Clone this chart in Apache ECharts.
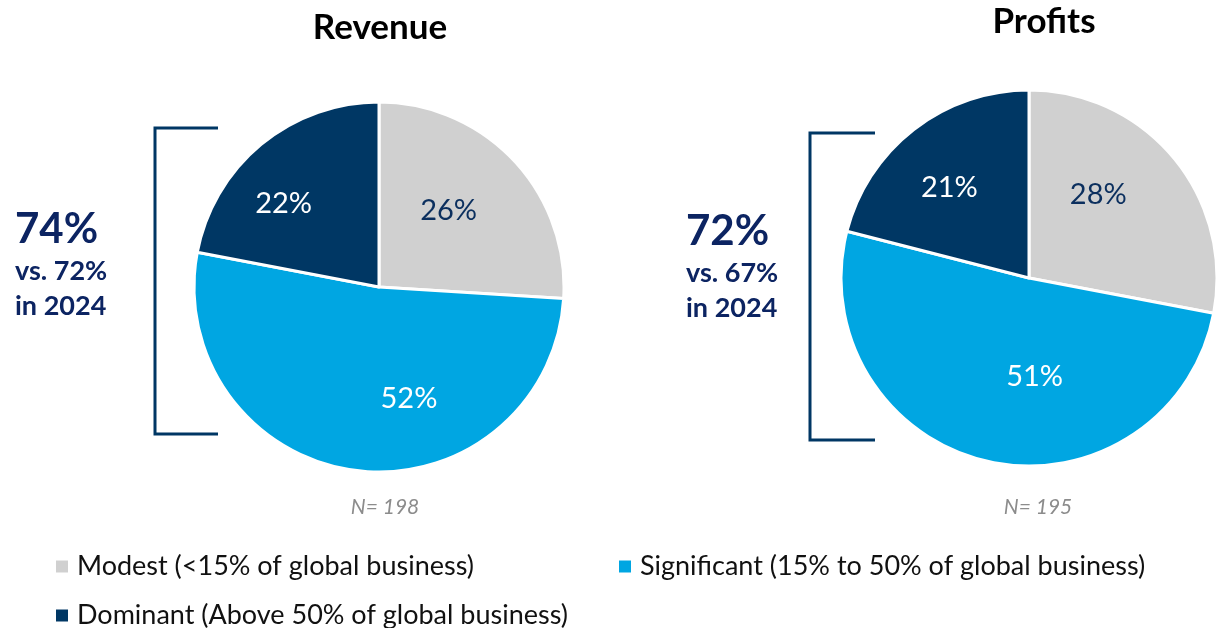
<!DOCTYPE html>
<html>
<head>
<meta charset="utf-8">
<script src="https://cdn.jsdelivr.net/npm/echarts@6/dist/echarts.min.js"></script>
<style>
  html, body { margin: 0; padding: 0; background: #fff; }
  #chart { width: 1218px; height: 628px; }
</style>
</head>
<body>
<div id="chart"></div>
<script>
const categories = [
  'Modest (<15% of global business)',
  'Significant (15% to 50% of global business)',
  'Dominant (Above 50% of global business)'
];
const revenueValues = [26, 52, 22];
const profitValues = [28, 51, 21];
const revenueSample = 'N= 198';
const profitSample = 'N= 195';
const revenueNote = ['74%', 'vs. 72%', 'in 2024'];
const profitNote = ['72%', 'vs. 67%', 'in 2024'];

const colors = ['#D0D0D0', '#00A6E2', '#003764'];
const labelColors = ['#0B2F5E', '#FFFFFF', '#FFFFFF'];
const navy = '#0C2462';
const font = 'Lato, "Noto Sans", sans-serif';

// small nudges so the labels sit where the original chart put them
const revenueNudge = [[-12, 0], [44, 1], [-24, 3]];
const profitNudge = [[-17, -12], [30, -11], [-11, -2]];

const chart = echarts.init(document.getElementById('chart'));

function pieData(values) {
  return values.map((v, i) => ({
    name: categories[i],
    value: v,
    itemStyle: { color: colors[i] },
    label: { color: labelColors[i] }
  }));
}

// visible pie, no labels
function piePart(values, center, radius) {
  return {
    type: 'pie',
    center: center,
    radius: radius,
    startAngle: 90,
    clockwise: true,
    silent: true,
    data: pieData(values),
    label: { show: false },
    labelLine: { show: false },
    itemStyle: { borderColor: '#fff', borderWidth: 3 },
    emphasis: { disabled: true }
  };
}

// transparent, larger pie that only carries the labels
function labelPart(values, center, radius, nudge) {
  return {
    type: 'pie',
    center: center,
    radius: radius,
    startAngle: 90,
    clockwise: true,
    silent: true,
    legendHoverLink: false,
    data: pieData(values).map(d => Object.assign(d, { itemStyle: { color: 'rgba(0,0,0,0)' } })),
    label: {
      show: true,
      position: 'inside',
      fontFamily: font,
      fontSize: 29,
      formatter: p => p.value + '%'
    },
    labelLayout: p => ({ dx: nudge[p.dataIndex][0], dy: nudge[p.dataIndex][1] }),
    labelLine: { show: false },
    emphasis: { disabled: true }
  };
}

function legendAt(name, left, top) {
  return {
    data: [name],
    left: left,
    top: top,
    icon: 'rect',
    itemWidth: 14,
    itemHeight: 14,
    selectedMode: false,
    textStyle: { fontFamily: font, fontSize: 27, color: '#111', padding: [0, 0, 0, 3] }
  };
}

function noteText(lines, x, y) {
  return [
    { type: 'text', x: x, y: y, style: { text: lines[0], font: 'bold 42px ' + font, fill: navy, verticalAlign: 'middle' } },
    { type: 'text', x: x, y: y + 42, style: { text: lines[1], font: 'bold 27px ' + font, fill: navy, verticalAlign: 'middle' } },
    { type: 'text', x: x, y: y + 77, style: { text: lines[2], font: 'bold 27px ' + font, fill: navy, verticalAlign: 'middle' } }
  ];
}

function bracket(x, x2, y1, y2) {
  return {
    type: 'polyline',
    shape: { points: [[x2, y1], [x, y1], [x, y2], [x2, y2]] },
    style: { stroke: '#003764', lineWidth: 3, fill: null }
  };
}

chart.setOption({
  animation: false,
  legend: [
    legendAt(categories[0], 49, 548),
    legendAt(categories[1], 612, 548),
    legendAt(categories[2], 49, 597)
  ],
  series: [
    piePart(revenueValues, [379, 287], 185),
    labelPart(revenueValues, [379, 287], 218, revenueNudge),
    piePart(profitValues, [1029, 278], 188),
    labelPart(profitValues, [1029, 278], 218, profitNudge)
  ],
  graphic: [
    { type: 'text', x: 380, y: 28, style: { text: 'Revenue', font: 'bold 35px ' + font, fill: '#000', align: 'center', verticalAlign: 'middle' } },
    { type: 'text', x: 1044, y: 22, style: { text: 'Profits', font: 'bold 35px ' + font, fill: '#000', align: 'center', verticalAlign: 'middle' } },
    { type: 'text', x: 385, y: 507, style: { text: revenueSample, font: 'italic 21px ' + font, fill: '#8C8C8C', align: 'center', verticalAlign: 'middle' } },
    { type: 'text', x: 1038, y: 507, style: { text: profitSample, font: 'italic 21px ' + font, fill: '#8C8C8C', align: 'center', verticalAlign: 'middle' } },
    bracket(155, 218, 128, 434),
    bracket(810, 875, 133, 440)
  ].concat(noteText(revenueNote, 15, 229), noteText(profitNote, 686, 231))
});
</script>
</body>
</html>
